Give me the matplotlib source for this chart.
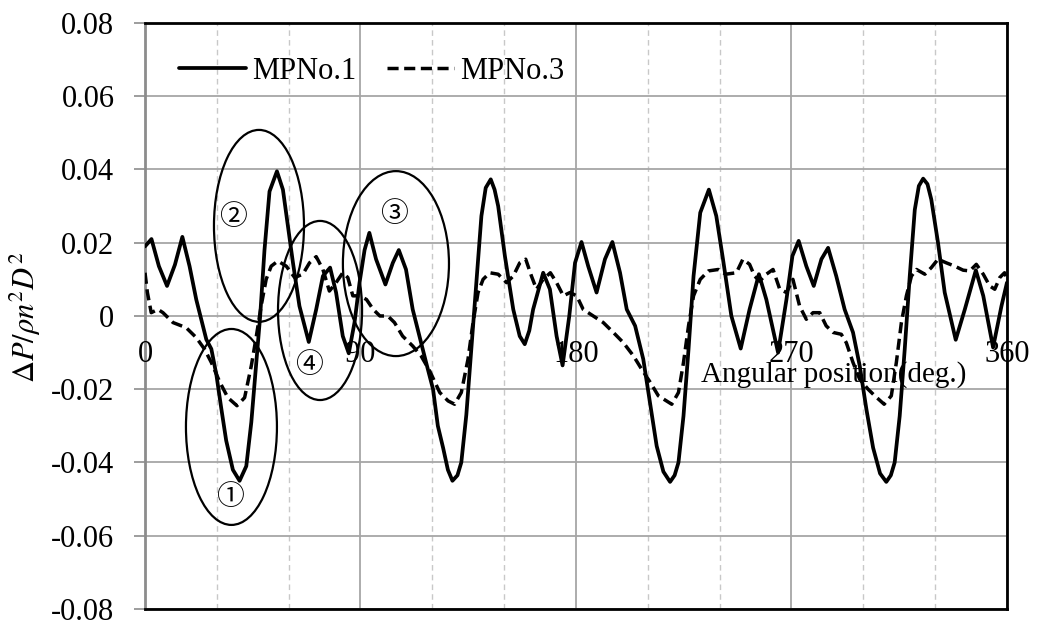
import matplotlib
matplotlib.use("Agg")
import matplotlib.pyplot as plt
from matplotlib.patches import Ellipse
from matplotlib.ticker import MultipleLocator, FuncFormatter

plt.rcParams['font.family'] = ['Liberation Serif', 'DejaVu Serif']
plt.rcParams['mathtext.fontset'] = 'stix'

# MPNo.1 pressure fluctuation (solid)
ang1 = [0, 2.7, 5.8, 9.2, 12.5, 15.6, 18.6, 21.4, 23.5, 25.6, 27.7, 29.8, 31.8, 33.9,
        36.7, 39.5, 42.3, 44.4, 46.5, 48.1, 49.9, 52.0, 55.1, 57.6, 59.7, 61.8, 64.5,
        68.4, 71.5, 74.3, 77.3, 79.8, 82.6, 85.1, 87.5, 89.6, 91.7, 93.7, 96.5, 100.4,
        103.5, 106.0, 109.0, 111.8, 114.6, 117.4, 120.3, 122.3, 124.5, 126.5, 128.4,
        130.5, 132.1, 134.2, 136.3, 138.4, 140.5, 142.3, 144.4, 146.0, 147.5, 150.3,
        153.8, 156.5, 158.6, 160.5, 162.1, 166.3, 169.1, 171.9, 174.4, 177.2, 179.6,
        182.3, 185.1, 188.6, 192.1, 195.2, 198.4, 201.2, 204.7, 208.1, 210.9, 213.7,
        216.5, 219.3, 221.2, 222.8, 224.9, 227.0, 229.1, 231.9, 235.5, 238.6, 241.4,
        244.9, 248.8, 252.5, 256.4, 259.5, 264.4, 267.9, 270.4, 273.0, 276.2, 279.3,
        282.5, 285.3, 288.7, 292.2, 295.7, 298.5, 301.3, 304.1, 307.0, 309.6, 311.5,
        313.1, 315.2, 317.3, 319.4, 321.5, 323.2, 325.0, 326.8, 328.4, 331.2, 334.0,
        338.6, 342.4, 347.0, 350.1, 354.2, 357.7, 360.0]
mp1 = [0.0190, 0.0210, 0.0136, 0.0082, 0.0140, 0.0216, 0.0136, 0.0045, -0.0010, -0.0064,
       -0.0090, -0.0160, -0.0250, -0.0340, -0.0420, -0.0450, -0.0410, -0.0290, -0.0127,
       0.0000, 0.0180, 0.0340, 0.0395, 0.0345, 0.0245, 0.0145, 0.0027, -0.0071, 0.0018,
       0.0109, 0.0132, 0.0064, -0.0055, -0.0102, -0.0018, 0.0091, 0.0180, 0.0227, 0.0155,
       0.0086, 0.0145, 0.0180, 0.0127, 0.0018, -0.0055, -0.0127, -0.0200, -0.0300,
       -0.0360, -0.0420, -0.0450, -0.0435, -0.0400, -0.0270, -0.0090, 0.0091, 0.0273,
       0.0350, 0.0373, 0.0345, 0.0300, 0.0164, 0.0018, -0.0055, -0.0077, -0.0040, 0.0018,
       0.0118, 0.0073, -0.0055, -0.0135, 0.0000, 0.0145, 0.0202, 0.0136, 0.0064, 0.0155,
       0.0202, 0.0118, 0.0018, -0.0027, -0.0118, -0.0236, -0.0355, -0.0425, -0.0453,
       -0.0435, -0.0400, -0.0273, -0.0091, 0.0109, 0.0282, 0.0345, 0.0273, 0.0155, 0.0000,
       -0.0089, 0.0018, 0.0114, 0.0045, -0.0100, 0.0045, 0.0164, 0.0205, 0.0136, 0.0082,
       0.0155, 0.0186, 0.0109, 0.0018, -0.0045, -0.0136, -0.0255, -0.0360, -0.0430,
       -0.0453, -0.0435, -0.0400, -0.0273, -0.0091, 0.0109, 0.0290, 0.0355, 0.0375,
       0.0360, 0.0318, 0.0200, 0.0064, -0.0065, 0.0018, 0.0125, 0.0055, -0.0086, 0.0027,
       0.0091]

# MPNo.3 pressure fluctuation (dashed)
ang3 = [0, 1.0, 2.6, 5.4, 7.5, 11.7, 17.2, 21.4, 24.9, 27.7, 31.2, 34.6, 38.4, 41.6,
        44.4, 46.5, 48.5, 50.6, 52.7, 55.5, 59.0, 62.5, 65.9, 68.7, 71.5, 74.3, 77.0,
        79.8, 82.6, 84.7, 86.8, 89.6, 92.5, 95.3, 98.1, 101.4, 104.2, 107.6, 111.8,
        115.3, 118.9, 123.1, 126.6, 129.3, 132.1, 134.9, 137.0, 139.1, 141.2, 144.0,
        147.5, 151.0, 153.8, 156.5, 159.0, 161.4, 163.5, 166.3, 169.3, 171.9, 174.7,
        177.5, 180.3, 183.0, 187.2, 191.4, 195.6, 199.8, 204.0, 207.4, 210.9, 214.4,
        220.0, 222.8, 224.9, 227.0, 229.1, 231.9, 235.3, 239.5, 242.5, 247.0, 249.7,
        252.5, 254.6, 256.7, 259.5, 262.3, 265.1, 267.9, 270.6, 273.4, 276.2, 279.0,
        281.8, 284.5, 287.4, 290.8, 292.9, 295.7, 298.5, 302.0, 304.8, 308.7, 311.7,
        313.8, 315.9, 318.0, 320.1, 322.2, 325.7, 328.4, 331.2, 334.7, 338.2, 341.7,
        344.5, 347.2, 350.1, 352.8, 354.9, 357.0, 359.0, 360.0]
mp3 = [0.0118, 0.0064, 0.0009, 0.0018, 0.0009, -0.0018, -0.0032, -0.0059, -0.0091,
       -0.0127, -0.0180, -0.0223, -0.0245, -0.0223, -0.0136, -0.0055, 0.0027, 0.0100,
       0.0136, 0.0150, 0.0136, 0.0105, 0.0114, 0.0145, 0.0162, 0.0127, 0.0068, 0.0091,
       0.0118, 0.0105, 0.0055, 0.0055, 0.0045, 0.0018, 0.0000, 0.0000, -0.0018, -0.0055,
       -0.0082, -0.0109, -0.0150, -0.0209, -0.0232, -0.0241, -0.0209, -0.0118, -0.0018,
       0.0064, 0.0100, 0.0118, 0.0114, 0.0091, 0.0109, 0.0145, 0.0155, 0.0109, 0.0073,
       0.0100, 0.0118, 0.0091, 0.0055, 0.0064, 0.0055, 0.0018, 0.0000, -0.0018, -0.0045,
       -0.0073, -0.0109, -0.0145, -0.0180, -0.0218, -0.0241, -0.0209, -0.0127, -0.0027,
       0.0055, 0.0100, 0.0123, 0.0127, 0.0114, 0.0118, 0.0155, 0.0141, 0.0109, 0.0095,
       0.0114, 0.0127, 0.0073, 0.0064, 0.0100, 0.0027, -0.0009, 0.0009, 0.0009, -0.0027,
       -0.0045, -0.0050, -0.0073, -0.0127, -0.0173, -0.0200, -0.0218, -0.0241, -0.0218,
       -0.0127, -0.0018, 0.0055, 0.0109, 0.0127, 0.0114, 0.0132, 0.0155, 0.0145, 0.0136,
       0.0125, 0.0123, 0.0141, 0.0114, 0.0082, 0.0073, 0.0105, 0.0118, 0.0100]

xticks = [0, 90, 180, 270, 360]
yticks = [-0.08, -0.06, -0.04, -0.02, 0, 0.02, 0.04, 0.06, 0.08]

# marked regions: label, centre (deg, value), width, height, label position
marks = [
    ("①", (36.1, -0.0303), 38.0, 0.0535, (35.5, -0.0494)),
    ("②", (47.6, 0.0246), 37.6, 0.0524, (36.7, 0.0270)),
    ("③", (104.8, 0.0143), 44.3, 0.0505, (104.0, 0.0279)),
    ("④", (73.1, 0.0015), 35.1, 0.0489, (68.5, -0.0134)),
]

fig = plt.figure(figsize=(10.38, 6.26), dpi=100)
ax = fig.add_axes([0.1397, 0.0272, 0.8304, 0.9361])

ax.plot(ang1, mp1, color='black', lw=2.7, label='MPNo.1', zorder=4,
        solid_joinstyle='round', solid_capstyle='round')
ax.plot(ang3, mp3, color='black', lw=2.5, dashes=(3.2, 1.6), label='MPNo.3', zorder=4,
        dash_joinstyle='round')

for lab, c, w, h, tp in marks:
    ax.add_patch(Ellipse(c, w, h, fill=False, edgecolor='black', lw=1.6, zorder=5))
    ax.text(tp[0], tp[1], lab, ha='center', va='center', fontsize=20,
            family=['Noto Sans CJK JP', 'DejaVu Sans'], zorder=6)

ax.set_xlim(0, 360)
ax.set_ylim(-0.08, 0.08)
ax.xaxis.set_major_locator(MultipleLocator(90))
ax.xaxis.set_minor_locator(MultipleLocator(30))
ax.set_yticks(yticks)
ax.yaxis.set_major_formatter(FuncFormatter(lambda v, p: '0' if abs(v) < 1e-9 else f'{v:.2f}'))
ax.tick_params(axis='x', which='both', length=0, labelbottom=False)
ax.tick_params(axis='y', length=8, width=1.2, color='#8c8c8c', pad=14, labelsize=22)

ax.grid(True, which='major', color='#a6a6a6', lw=1.3)
ax.grid(True, which='minor', axis='x', color='#c8c8c8', lw=1.0, ls=(0, (4, 3)))
ax.set_axisbelow(True)

for side in ['top', 'right', 'bottom']:
    ax.spines[side].set_color('black')
    ax.spines[side].set_linewidth(2.0)
ax.spines['left'].set_color('#8c8c8c')
ax.spines['left'].set_linewidth(2.0)

# angle labels sit just under the zero line
for t in xticks:
    ax.text(t, -0.0104, str(t), ha='center', va='center', fontsize=22, zorder=3)

ax.text(287.7, -0.0161, 'Angular position(deg.)', ha='center', va='center', fontsize=21, zorder=3)
fig.text(25 / 1038, 1 - 317 / 626, r'$\Delta P/\rho n^2D^2$', rotation=90,
         ha='center', va='center', fontsize=22)

ax.legend(loc='center left', bbox_to_anchor=(0.0394, 0.918), ncol=2, frameon=False,
          fontsize=22, handlelength=2.2, handletextpad=0.2, columnspacing=1.0,
          borderpad=0, borderaxespad=0)

fig.savefig('out.png', dpi=100)
